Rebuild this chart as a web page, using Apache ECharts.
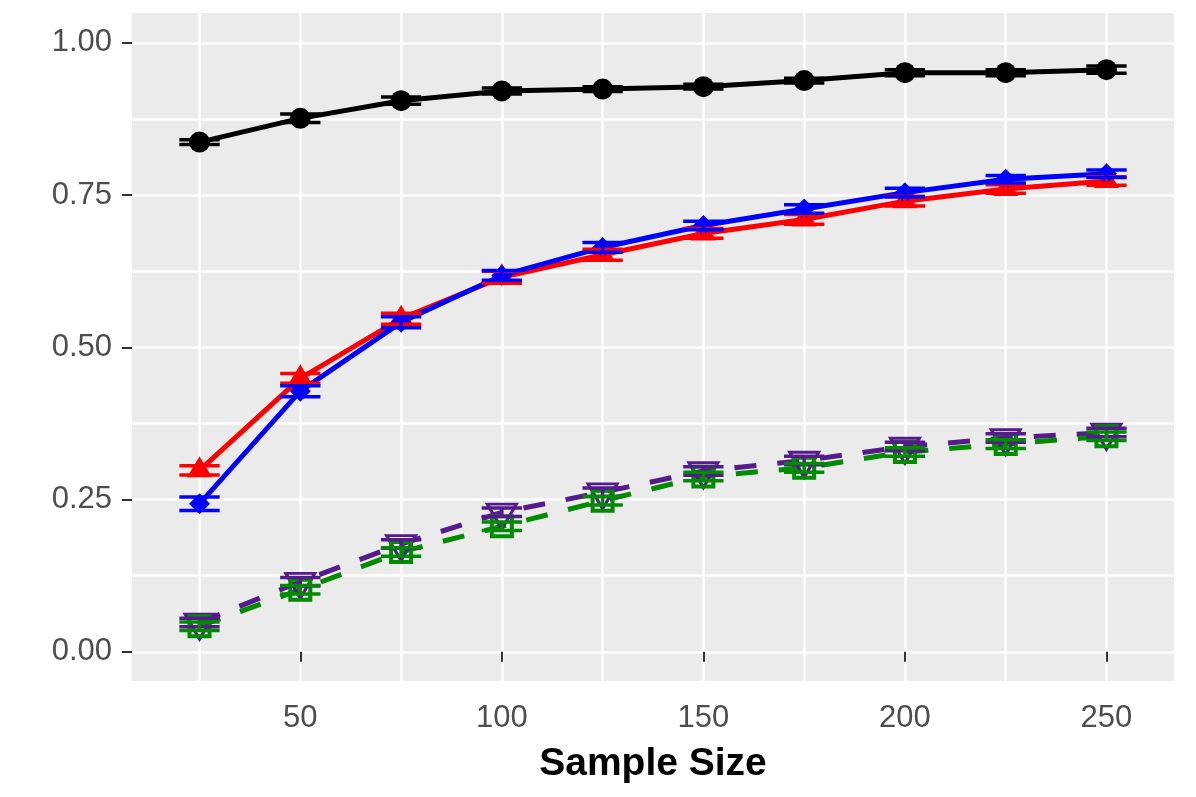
<!DOCTYPE html>
<html>
<head>
<meta charset="utf-8">
<script src="https://cdn.jsdelivr.net/npm/echarts@6/dist/echarts.min.js"></script>
<style>
  html, body { margin: 0; padding: 0; background: #fff; }
  #container { width: 1196px; height: 797px; }
</style>
</head>
<body>
<div id="container"></div>
<script>
// 数据
var sampleSizes = [25, 50, 75, 100, 125, 150, 175, 200, 225, 250];

var blackMean = [0.837, 0.876, 0.905, 0.921, 0.924, 0.928, 0.938, 0.951, 0.951, 0.956];
var blackErr = [0.004, 0.007, 0.006, 0.005, 0.004, 0.004, 0.004, 0.005, 0.005, 0.006];

var redMean = [0.298, 0.449, 0.547, 0.615, 0.652, 0.687, 0.710, 0.740, 0.760, 0.773];
var redErr = [0.0075, 0.008, 0.009, 0.010, 0.009, 0.008, 0.008, 0.008, 0.007, 0.007];

var blueMean = [0.243, 0.428, 0.541, 0.618, 0.664, 0.700, 0.727, 0.754, 0.776, 0.785];
var blueErr = [0.011, 0.009, 0.009, 0.008, 0.008, 0.007, 0.007, 0.007, 0.006, 0.006];

var purpleMean = [0.048, 0.115, 0.177, 0.229, 0.262, 0.297, 0.314, 0.337, 0.351, 0.360];
var purpleErr = [0.007, 0.007, 0.007, 0.007, 0.007, 0.007, 0.007, 0.007, 0.007, 0.007];

var greenMean = [0.042, 0.102, 0.164, 0.206, 0.248, 0.288, 0.302, 0.328, 0.341, 0.354];
var greenErr = [0.007, 0.007, 0.007, 0.007, 0.007, 0.007, 0.007, 0.007, 0.007, 0.007];

var xTickLabels = [50, 100, 150, 200, 250];
var xGridValues = [25, 50, 75, 100, 125, 150, 175, 200, 225, 250];
var yTickLabels = [0, 0.25, 0.5, 0.75, 1];
var yGridValues = [0, 0.125, 0.25, 0.375, 0.5, 0.625, 0.75, 0.875, 1];

var fontFamily = 'Liberation Sans, Arial, sans-serif';

// [x, y] 点
function toPoints(means) {
    var arr = [];
    for (var i = 0; i < sampleSizes.length; i++) {
        arr.push([sampleSizes[i], means[i]]);
    }
    return arr;
}

// [x, low, high] 误差
function toErrors(means, errs) {
    var arr = [];
    for (var i = 0; i < sampleSizes.length; i++) {
        arr.push([sampleSizes[i], means[i] - errs[i], means[i] + errs[i]]);
    }
    return arr;
}

function lineSeries(name, means, color, dashed) {
    return {
        name: name,
        type: 'line',
        data: toPoints(means),
        showSymbol: false,
        symbol: 'none',
        silent: true,
        lineStyle: {
            color: color,
            width: 5,
            type: dashed ? [22, 21] : 'solid',
            cap: 'butt'
        },
        z: 2
    };
}

function pointSeries(name, means, color, symbolOpts) {
    return {
        name: name,
        type: 'scatter',
        data: toPoints(means),
        silent: true,
        symbol: symbolOpts.symbol,
        symbolSize: symbolOpts.size,
        symbolRotate: symbolOpts.rotate || 0,
        symbolOffset: symbolOpts.offset || [0, 0],
        itemStyle: symbolOpts.hollow ? {
            color: 'rgba(0,0,0,0)',
            borderColor: color,
            borderWidth: symbolOpts.border || 3,
            opacity: 1
        } : {
            color: color,
            opacity: 1
        },
        z: 3
    };
}

function errorSeries(name, means, errs, color) {
    return {
        name: name,
        type: 'custom',
        data: toErrors(means, errs),
        silent: true,
        z: 4,
        renderItem: function (params, api) {
            var x = api.value(0);
            var lo = api.coord([x, api.value(1)]);
            var hi = api.coord([x, api.value(2)]);
            var half = api.coord([x + 5, api.value(1)])[0] - lo[0];
            var style = { stroke: color, lineWidth: 3.5 };
            return {
                type: 'group',
                children: [
                    { type: 'line', shape: { x1: lo[0] - half, y1: lo[1], x2: lo[0] + half, y2: lo[1] }, style: style },
                    { type: 'line', shape: { x1: hi[0] - half, y1: hi[1], x2: hi[0] + half, y2: hi[1] }, style: style },
                    { type: 'line', shape: { x1: lo[0], y1: lo[1], x2: hi[0], y2: hi[1] }, style: style }
                ]
            };
        }
    };
}

var black = '#000000', red = '#FF0000', blue = '#0000FF', purple = '#551A8B', green = '#008B00';

var option = {
    animation: false,
    backgroundColor: '#ffffff',
    grid: {
        left: 132,
        right: 22,
        top: 13,
        bottom: 116,
        show: true,
        backgroundColor: '#EBEBEB',
        borderWidth: 0,
        containLabel: false,
        outerBoundsMode: 'none'
    },
    xAxis: [{
        type: 'value',
        min: 8.25,
        max: 266.75,
        name: 'Sample Size',
        nameLocation: 'middle',
        nameGap: 64,
        nameMoveOverlap: false,
        nameTextStyle: {
            color: '#000000',
            fontSize: 39,
            fontWeight: 'bold',
            fontFamily: fontFamily
        },
        axisLine: { show: false },
        axisTick: {
            show: true,
            length: 10,
            customValues: xTickLabels,
            lineStyle: { color: '#333333', width: 2 }
        },
        axisLabel: {
            customValues: xTickLabels,
            margin: 22,
            color: '#4D4D4D',
            fontSize: 31,
            fontFamily: fontFamily
        },
        splitLine: { show: false }
    }, {
        type: 'value',
        min: 8.25,
        max: 266.75,
        position: 'bottom',
        axisLine: { show: false },
        axisTick: { show: false, customValues: xGridValues },
        axisLabel: { show: false },
        splitLine: { show: true, lineStyle: { color: '#ffffff', width: 2.5 } }
    }],
    yAxis: [{
        type: 'value',
        min: -0.048,
        max: 1.049,
        axisLine: { show: false },
        axisTick: {
            show: true,
            length: 10,
            customValues: yTickLabels,
            lineStyle: { color: '#333333', width: 2 }
        },
        axisLabel: {
            customValues: yTickLabels,
            margin: 20,
            color: '#4D4D4D',
            fontSize: 31,
            fontFamily: fontFamily,
            formatter: function (v) {
                return v.toFixed(2);
            }
        },
        splitLine: { show: false }
    }, {
        type: 'value',
        min: -0.048,
        max: 1.049,
        position: 'left',
        axisLine: { show: false },
        axisTick: { show: false, customValues: yGridValues },
        axisLabel: { show: false },
        splitLine: { show: true, lineStyle: { color: '#ffffff', width: 2.5 } }
    }],
    series: [
        lineSeries('black', blackMean, black, false),
        lineSeries('red', redMean, red, false),
        lineSeries('blue', blueMean, blue, false),
        lineSeries('purple', purpleMean, purple, true),
        lineSeries('green', greenMean, green, true),

        pointSeries('black', blackMean, black, { symbol: 'circle', size: 21 }),
        pointSeries('red', redMean, red, { symbol: 'triangle', size: [25, 21], offset: [0, -3.5] }),
        pointSeries('blue', blueMean, blue, { symbol: 'diamond', size: [21, 21] }),
        pointSeries('purple', purpleMean, purple, { symbol: 'triangle', size: [29, 25], rotate: 180, offset: [0, 4.2], hollow: true, border: 3 }),
        pointSeries('green', greenMean, green, { symbol: 'rect', size: [20, 20], hollow: true, border: 4 }),

        errorSeries('black', blackMean, blackErr, black),
        errorSeries('red', redMean, redErr, red),
        errorSeries('blue', blueMean, blueErr, blue),
        errorSeries('purple', purpleMean, purpleErr, purple),
        errorSeries('green', greenMean, greenErr, green)
    ]
};

var container = echarts.init(document.getElementById('container'));
container.setOption(option);
</script>
</body>
</html>
